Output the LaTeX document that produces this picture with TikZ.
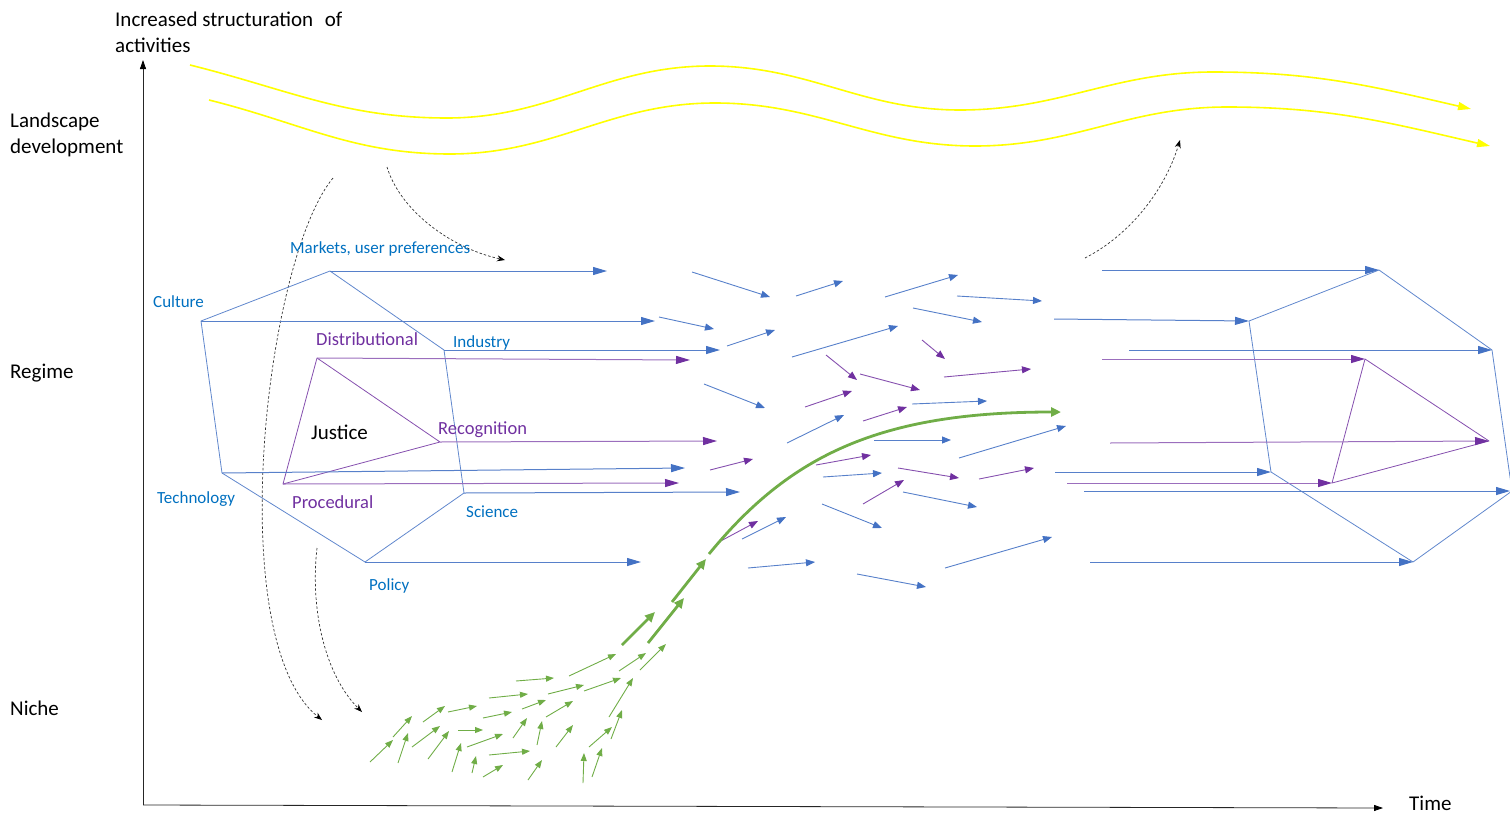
\documentclass[tikz,border=0pt]{standalone}
\usepackage{fontspec}
\setmainfont{Carlito}
\usetikzlibrary{arrows.meta}
\definecolor{bl}{HTML}{4472C4}
\definecolor{bltxt}{HTML}{0070C0}
\definecolor{pp}{HTML}{7030A0}
\definecolor{gr}{HTML}{70AD47}
\definecolor{yl}{HTML}{FFFF00}
\tikzset{
  lbl/.style={anchor=base west, inner sep=0pt, font=\fontsize{21}{25}\selectfont},
  blbl/.style={anchor=base west, inner sep=0pt, font=\fontsize{17}{20}\selectfont, text=bltxt},
  plbl/.style={anchor=base west, inner sep=0pt, font=\fontsize{18.5}{22}\selectfont, text=pp},
  hexline/.style={draw=bl!85, line width=0.8pt, line join=round},
  triline/.style={draw=pp!85, line width=0.8pt, line join=round},
  barrow/.style={draw=bl!90, line width=1pt, -{Triangle[length=14pt,width=8pt,color=bl]}},
  sbarrow/.style={draw=bl!90, line width=0.9pt, -{Triangle[length=9pt,width=7pt,color=bl]}},
  parrow/.style={draw=pp!70, line width=1pt, -{Triangle[length=14pt,width=8pt,color=pp]}},
  sparrow/.style={draw=pp!85, line width=0.9pt, -{Triangle[length=9pt,width=7pt,color=pp]}},
  garrow/.style={draw=gr, line width=0.9pt, -{Triangle[length=8pt,width=6pt,color=gr]}},
  gthick/.style={draw=gr, line width=2.8pt, -{Triangle[length=10pt,width=9pt,color=gr]}},
  yarrow/.style={draw=yl, line width=1.6pt, -{Triangle[length=13pt,width=8pt,color=yl]}},
  dasharrow/.style={draw=black!80, line width=0.7pt, dash pattern=on 2.5pt off 2pt, -{Stealth[length=8pt,width=6pt,color=black]}},
  axisarrow/.style={draw=black!85, line width=0.8pt, -{Triangle[length=9pt,width=6pt,color=black]}}
}
\begin{document}
\begin{tikzpicture}[x=1pt,y=-1pt]
\useasboundingbox (0,0) rectangle (1510,814);
% axes
\coordinate (O) at (143,805);
\coordinate (Ytop) at (143,60);
\coordinate (Xend) at (1383,808);
\draw[axisarrow] (O) -- (Ytop);
\draw[axisarrow] (O) -- (Xend);
% black labels
\node[lbl] (inc1) at (115,26) {Increased structuration\hspace{0.55em}of};
\node[lbl] (inc2) at (115,52) {activities};
\node[lbl] (land1) at (10,127) {Landscape};
\node[lbl] (land2) at (10,153) {development};
\node[lbl] (regime) at (10,378) {Regime};
\node[lbl] (niche) at (10,715) {Niche};
\node[lbl] (time) at (1409,810) {Time};
% yellow landscape waves
\coordinate (y1s) at (190,65);
\coordinate (y1e) at (1471,109);
\coordinate (y2s) at (209,100);
\coordinate (y2e) at (1490,146);
\draw[yarrow] (y1s) to[out=-14,in=180] (447,118) to[out=0,in=180] (710,66)
  to[out=0,in=180] (960,110) to[out=0,in=180] (1213,72) to[out=0,in=167] (y1e);
\draw[yarrow] (y2s) to[out=-14,in=180] (450,154) to[out=0,in=180] (715,103)
  to[out=0,in=180] (975,146) to[out=0,in=180] (1227,107) to[out=0,in=167] (y2e);
% dashed influence arrows
\coordinate (d1s) at (333,178); \coordinate (d1e) at (322,720);
\coordinate (d2s) at (317,548); \coordinate (d2e) at (362,712);
\coordinate (d3s) at (387,167); \coordinate (d3e) at (505,260);
\coordinate (d4s) at (1085,258); \coordinate (d4e) at (1180,140);
\draw[dasharrow] (d1s) .. controls (265,260) and (222,640) .. (d1e);
\draw[dasharrow] (d2s) .. controls (310,610) and (325,675) .. (d2e);
\draw[dasharrow] (d3s) .. controls (400,210) and (450,248) .. (d3e);
\draw[dasharrow] (d4s) .. controls (1130,235) and (1165,190) .. (d4e);
% left hexagon
\coordinate (cul) at (201,321);
\coordinate (mar) at (330,271);
\coordinate (ind) at (444,350);
\coordinate (sci) at (464,493);
\coordinate (pol) at (365,562);
\coordinate (tec) at (222,473);
\draw[hexline] (cul) -- (mar) -- (ind) -- (sci) -- (pol) -- (tec) -- cycle;
% left triangle
\coordinate (dis) at (317,358);
\coordinate (rec) at (440,442);
\coordinate (pro) at (283,484);
\draw[triline] (dis) -- (rec) -- (pro) -- cycle;
% arrows out of left shapes
\coordinate (marE) at (607,271);
\coordinate (culE) at (655,321);
\coordinate (indE) at (720,350);
\coordinate (tecE) at (685,468);
\coordinate (sciE) at (740,492);
\coordinate (polE) at (641,562);
\draw[barrow] (mar) -- (marE);
\draw[barrow] (cul) -- (culE);
\draw[barrow] (ind) -- (indE);
\draw[barrow] (tec) -- (tecE);
\draw[barrow] (sci) -- (sciE);
\draw[barrow] (pol) -- (polE);
\coordinate (disE) at (690,360);
\coordinate (recE) at (717,441);
\coordinate (proE) at (679,483);
\draw[parrow] (dis) -- (disE);
\draw[parrow] (rec) -- (recE);
\draw[parrow] (pro) -- (proE);
% left labels
\node[blbl] (lcul) at (153,307) {Culture};
\node[blbl] (lmar) at (290,253) {Markets, user preferences};
\node[blbl] (lind) at (453,347) {Industry};
\node[blbl] (ltec) at (157,503) {Technology};
\node[blbl] (lsci) at (466,517) {Science};
\node[blbl] (lpol) at (369,590) {Policy};
\node[plbl] (ldis) at (316,345) {Distributional};
\node[plbl] (lrec) at (438,434) {Recognition};
\node[plbl] (lpro) at (292,508) {Procedural};
\node[lbl] (ljus) at (311,439) {Justice};
% right hexagon
\coordinate (cul2) at (1249,321);
\coordinate (mar2) at (1379,270);
\coordinate (ind2) at (1492,350);
\coordinate (sci2) at (1512,491);
\coordinate (pol2) at (1413,562);
\coordinate (tec2) at (1271,472);
\draw[hexline] (cul2) -- (mar2) -- (ind2) -- (sci2) -- (pol2) -- (tec2) -- cycle;
\coordinate (dis2) at (1365,359);
\coordinate (rec2) at (1489,441);
\coordinate (pro2) at (1332,483);
\draw[triline] (dis2) -- (rec2) -- (pro2) -- cycle;
% arrows into right shapes
\coordinate (mar2S) at (1102,270);
\coordinate (cul2S) at (1054,319);
\coordinate (ind2S) at (1129,350);
\coordinate (tec2S) at (1055,472);
\coordinate (sci2S) at (1084,491);
\coordinate (sci2T) at (1510,491);
\coordinate (pol2S) at (1090,562);
\draw[barrow] (mar2S) -- (mar2);
\draw[barrow] (cul2S) -- (cul2);
\draw[barrow] (ind2S) -- (ind2);
\draw[barrow] (tec2S) -- (tec2);
\draw[barrow] (sci2S) -- (sci2T);
\draw[barrow] (pol2S) -- (pol2);
\coordinate (dis2S) at (1102,359);
\coordinate (rec2S) at (1110,443);
\coordinate (pro2S) at (1067,483);
\draw[parrow] (dis2S) -- (dis2);
\draw[parrow] (rec2S) -- (rec2);
\draw[parrow] (pro2S) -- (pro2);
% scattered blue arrows
\foreach \xa/\ya/\xb/\yb [count=\i] in {
  692/272/770/297, 796/296/843/281, 885/297/958/275, 957/296/1042/301,
  913/308/982/322, 659/317/714/329, 727/346/775/330, 792/357/898/326,
  704/384/765/408, 787/443/844/415, 912/404/987/401, 874/440/951/440,
  959/458/1066/426, 823/477/882/473, 903/492/977/507, 822/504/882/528,
  742/539/786/517, 748/568/815/562, 945/568/1052/537, 857/574/926/587}
{\coordinate (bs\i) at (\xa,\ya); \coordinate (be\i) at (\xb,\yb);
 \draw[sbarrow] (bs\i) -- (be\i);}
% scattered purple arrows
\foreach \xa/\ya/\xb/\yb [count=\i] in {
  922/340/945/359, 826/355/857/380, 860/374/920/390, 944/377/1031/369,
  805/407/852/391, 863/421/907/407, 710/470/753/459, 816/465/871/455,
  898/468/959/478, 979/479/1034/468, 863/504/904/480, 717/543/758/521}
{\coordinate (ps\i) at (\xa,\ya); \coordinate (pe\i) at (\xb,\yb);
 \draw[sparrow] (ps\i) -- (pe\i);}
% niche green arrows
\foreach \xa/\ya/\xb/\yb [count=\i] in {
  370/762/393/740, 398/763/408/733, 393/737/412/716, 412/747/440/726,
  423/722/445/706, 428/759/449/731, 448/712/477/706, 452/772/461/743,
  458/730/483/730, 472/773/476/756, 467/747/503/734, 483/777/503/765,
  483/718/512/712, 489/698/528/694, 489/755/530/751, 513/738/527/718,
  522/709/546/700, 516/681/554/678, 537/745/542/721, 528/780/542/760,
  546/717/573/701, 548/694/584/685, 569/676/616/654, 556/747/573/725,
  584/691/621/678, 583/783/584/753, 592/777/602/748, 589/747/612/727,
  611/739/622/710, 609/717/633/678, 619/671/646/653, 640/670/666/644}
{\coordinate (gs\i) at (\xa,\ya); \coordinate (ge\i) at (\xb,\yb);
 \draw[garrow] (gs\i) -- (ge\i);}
% thick green trajectory
\coordinate (t1s) at (622,645); \coordinate (t1e) at (655,612);
\coordinate (t2s) at (648,643); \coordinate (t2e) at (684,598);
\coordinate (t3s) at (672,602); \coordinate (t3e) at (706,559);
\coordinate (t4s) at (709,554); \coordinate (t4e) at (1061,412);
\draw[gthick] (t1s) -- (t1e);
\draw[gthick] (t2s) -- (t2e);
\draw[gthick] (t3s) -- (t3e);
\draw[gthick] (t4s) .. controls (790,455) and (880,412) .. (t4e);
\end{tikzpicture}
\end{document}
